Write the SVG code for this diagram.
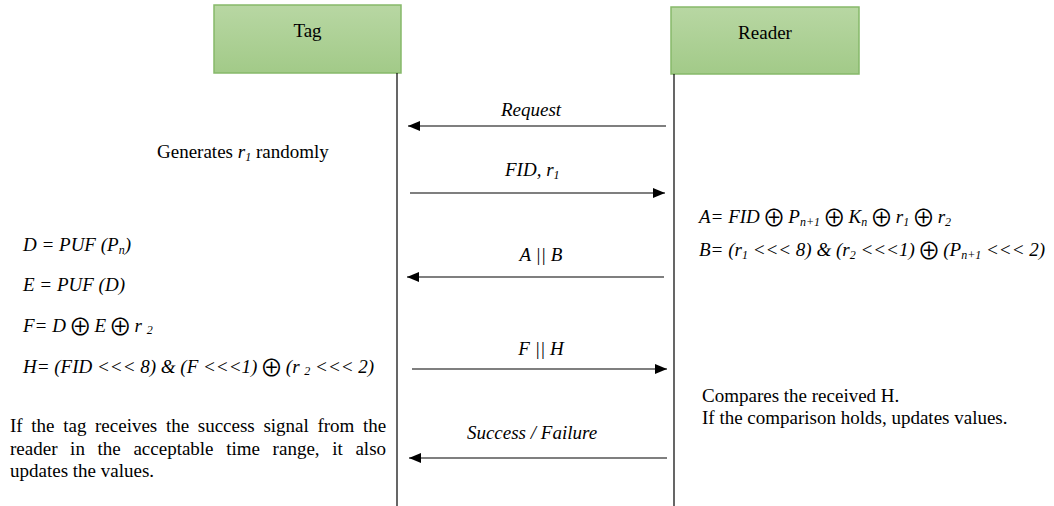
<svg xmlns="http://www.w3.org/2000/svg" width="1054" height="506" viewBox="0 0 1054 506">
  <defs>
    <linearGradient id="boxFill" x1="0" y1="0" x2="0" y2="1">
      <stop offset="0" stop-color="#b8d7a3"/>
      <stop offset="1" stop-color="#a2ca88"/>
    </linearGradient>
    <marker id="arrow" viewBox="0 0 12 10" refX="12" refY="5" markerWidth="12" markerHeight="10" markerUnits="userSpaceOnUse" orient="auto">
      <path d="M0,0 L12,5 L0,10 Z" fill="#000"/>
    </marker>
  </defs>
  <style>
    text { font-family: "Liberation Serif", "Times New Roman", serif; font-size: 19px; fill: #000; }
    .it { font-style: italic; }
    .sub { font-size: 12px; }
    .op { font-family: "Noto Sans CJK SC", "DejaVu Sans", sans-serif; font-style: normal; font-weight: 400; font-size: 23px; letter-spacing: -2px; baseline-shift: -3px; }
    .box { fill: url(#boxFill); stroke: #86b96a; stroke-width: 1.5; }
    .life { stroke: #000; stroke-width: 1.2; fill: none; }
    .msg { stroke: #000; stroke-width: 1.2; fill: none; marker-end: url(#arrow); }
  </style>

  <!-- participants -->
  <g id="tag">
    <rect class="box" x="214" y="5" width="187" height="68"/>
    <text x="307.5" y="37" text-anchor="middle">Tag</text>
  </g>
  <g id="reader">
    <rect class="box" x="671" y="7" width="188" height="67"/>
    <text x="765" y="39" text-anchor="middle">Reader</text>
  </g>

  <!-- lifelines and messages -->
  <g id="connectors">
    <line class="life" x1="397" y1="73" x2="397" y2="506"/>
    <line class="life" x1="674" y1="74" x2="674" y2="506"/>
    <line class="msg" x1="666" y1="126" x2="408" y2="126"/>
    <line class="msg" x1="410" y1="193" x2="665" y2="193"/>
    <line class="msg" x1="664" y1="277" x2="407" y2="277"/>
    <line class="msg" x1="412" y1="369" x2="667" y2="369"/>
    <line class="msg" x1="667" y1="458" x2="409" y2="458"/>
  </g>

  <!-- message labels -->
  <g id="labels">
    <text class="it" x="531" y="116" text-anchor="middle">Request</text>
    <text class="it" x="505" y="176">FID, r<tspan class="sub" dy="3">1</tspan></text>
    <text class="it" x="541" y="261" text-anchor="middle">A || B</text>
    <text class="it" x="541" y="355" text-anchor="middle">F || H</text>
    <text class="it" x="532" y="439" text-anchor="middle">Success / Failure</text>
  </g>

  <!-- tag-side computations -->
  <g id="tag-steps">
    <text x="157" y="158">Generates <tspan class="it">r</tspan><tspan class="sub it" dy="3">1</tspan><tspan dy="-3"> randomly</tspan></text>
    <text class="it" x="23" y="251">D = PUF (P<tspan class="sub" dy="3">n</tspan><tspan dy="-3">)</tspan></text>
    <text class="it" x="23" y="291">E = PUF (D)</text>
    <text class="it" x="23" y="332">F= D <tspan class="op" dx="-2">⊕</tspan> E <tspan class="op" dx="-2">⊕</tspan> r <tspan class="sub" dy="2">2</tspan></text>
    <text class="it" x="23" y="373">H= (FID &lt;&lt;&lt; 8) &amp; (F &lt;&lt;&lt;1) <tspan class="op" dx="-2">⊕</tspan> (r <tspan class="sub" dy="2">2</tspan><tspan dy="-2"> &lt;&lt;&lt; 2)</tspan></text>
    <text x="10" y="432" word-spacing="3.9">If the tag receives the success signal from the</text>
    <text x="10" y="455" word-spacing="7.9">reader in the acceptable time range, it also</text>
    <text x="10" y="477">updates the values.</text>
  </g>

  <!-- reader-side computations -->
  <g id="reader-steps">
    <text class="it" x="699" y="223">A= FID <tspan class="op" dx="-2">⊕</tspan> P<tspan class="sub" dy="3">n+1</tspan><tspan dy="-3"> </tspan><tspan class="op" dx="-2">⊕</tspan> K<tspan class="sub" dy="3">n</tspan><tspan dy="-3"> </tspan><tspan class="op" dx="-2">⊕</tspan> r<tspan class="sub" dy="3">1</tspan><tspan dy="-3"> </tspan><tspan class="op" dx="-2">⊕</tspan> r<tspan class="sub" dy="3">2</tspan></text>
    <text class="it" x="699" y="256">B= (r<tspan class="sub" dy="3">1</tspan><tspan dy="-3"> &lt;&lt;&lt; 8) &amp; (r</tspan><tspan class="sub" dy="3">2</tspan><tspan dy="-3"> &lt;&lt;&lt;1) </tspan><tspan class="op" dx="-2">⊕</tspan> (P<tspan class="sub" dy="3">n+1</tspan><tspan dy="-3"> &lt;&lt;&lt; 2)</tspan></text>
    <text x="702" y="402">Compares the received H.</text>
    <text x="702" y="424">If the comparison holds, updates values.</text>
  </g>
</svg>
